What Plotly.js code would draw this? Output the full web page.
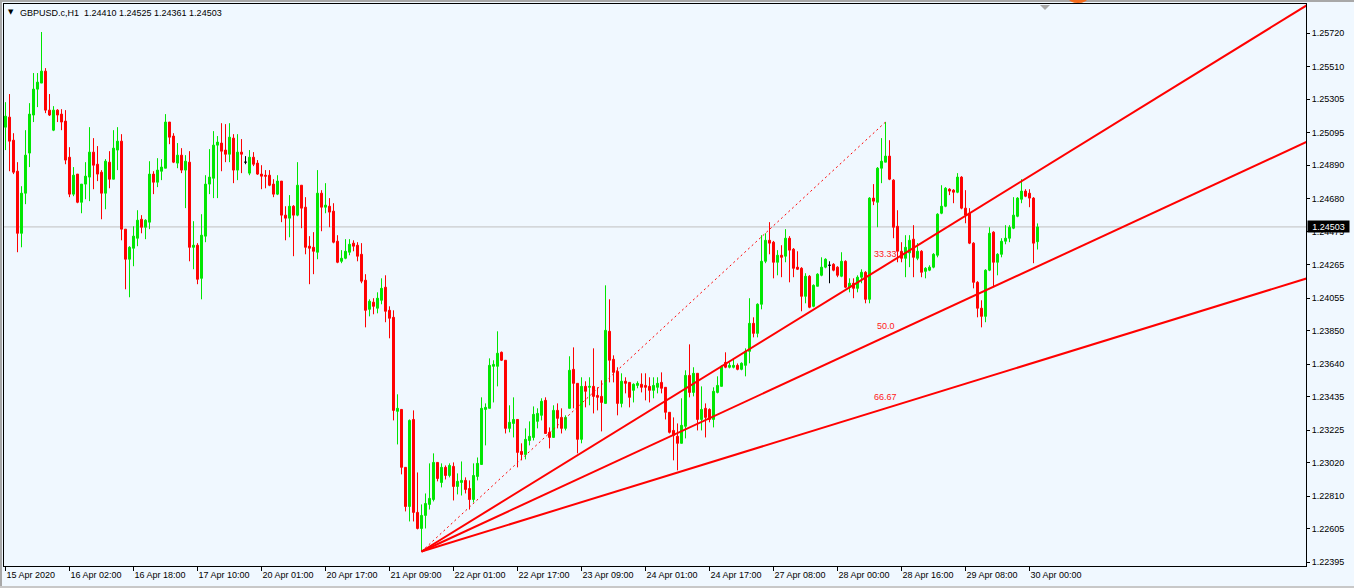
<!DOCTYPE html>
<html><head><meta charset="utf-8">
<script src="https://cdn.plot.ly/plotly-3.0.1.min.js"></script>
<style>
html,body{margin:0;padding:0;background:#F0F8FF;overflow:hidden;width:1354px;height:588px}
#chart{position:absolute;left:0;top:0;width:1354px;height:588px}
.deco{position:absolute;pointer-events:none}
</style></head><body>
<div id="chart"></div>
<div class="deco" style="left:0;top:0;width:1354px;height:2px;background:#A8A8A8"></div>
<div class="deco" style="left:0;top:0;width:2px;height:588px;background:#A8A8A8"></div>
<div class="deco" style="left:0;top:586px;width:1354px;height:2px;background:#C8C8C8"></div>
<div class="deco" style="left:1068px;top:-8px;width:20px;height:11px;border-radius:50%;background:#F26A1B"></div>
<div class="deco" style="left:1040px;top:5px;width:0;height:0;border-left:5px solid transparent;border-right:5px solid transparent;border-top:5px solid #A8A8A8"></div>
<script>
const symbolName = 'GBPUSD.c,H1';

const openP = [
1.25130,1.25193,1.25048,1.24853,1.24463,1.24715,1.24967,1.25206,1.25369,1.25407,
1.25482,1.25237,1.25111,1.25237,1.25212,1.25168,1.24941,1.24709,1.24835,1.24658,
1.24772,1.24816,1.24973,1.24897,1.24847,1.24715,1.24910,1.24803,1.24986,1.25042,
1.24489,1.24300,1.24369,1.24432,1.24551,1.24501,1.24533,1.24835,1.24784,1.24853,
1.24872,1.25162,1.25074,1.24904,1.24954,1.24860,1.24910,1.24375,1.24388,1.24180,
1.24445,1.24772,1.24809,1.25017,1.25030,1.24986,1.24960,1.25061,1.24860,1.24973,
1.24910,1.24841,1.24941,1.24904,1.24835,1.24828,1.24828,1.24772,1.24709,1.24791,
1.24577,1.24558,1.24633,1.24577,1.24765,1.24627,1.24382,1.24375,1.24344,1.24715,
1.24627,1.24633,1.24602,1.24413,1.24287,1.24306,1.24344,1.24401,1.24388,1.24331,
1.24168,1.23985,1.24030,1.23992,1.24042,1.24124,1.23979,1.23935,1.23344,1.23356,
1.22992,1.22746,1.23293,1.22709,1.22608,1.22690,1.22759,1.22790,1.23023,1.22897,
1.22992,1.22941,1.22998,1.22872,1.22897,1.22910,1.22859,1.22790,1.22935,1.23010,
1.23356,1.23363,1.23627,1.23627,1.23715,1.23665,1.23237,1.23268,1.23293,1.23092,
1.23073,1.23161,1.23180,1.23281,1.23319,1.23413,1.23212,1.23180,1.23350,1.23306,
1.23237,1.23363,1.23608,1.23520,1.23168,1.23501,1.23495,1.23501,1.23444,1.23438,
1.23394,1.23847,1.23671,1.23595,1.23394,1.23533,1.23526,1.23476,1.23507,1.23514,
1.23507,1.23501,1.23476,1.23495,1.23526,1.23495,1.23338,1.23224,1.23187,1.23143,
1.23250,1.23570,1.23463,1.23583,1.23293,1.23363,1.23356,1.23293,1.23463,1.23501,
1.23652,1.23621,1.23621,1.23633,1.23608,1.23633,1.23721,1.23897,1.23834,1.24017,
1.24287,1.24419,1.24407,1.24281,1.24325,1.24319,1.24432,1.24363,1.24250,1.24243,
1.24067,1.24193,1.24004,1.24130,1.24199,1.24250,1.24262,1.24268,1.24250,1.24193,
1.24287,1.24124,1.24149,1.24117,1.24187,1.24218,1.24048,1.24684,1.24658,1.24872,
1.24910,1.24948,1.24797,1.24507,1.24350,1.24306,1.24340,1.24426,1.24306,1.24350,
1.24224,1.24231,1.24250,1.24325,1.24589,1.24633,1.24740,1.24734,1.24721,1.24816,
1.24621,1.24589,1.24401,1.24155,1.23992,1.23941,1.24231,1.24470,1.24281,1.24331,
1.24413,1.24432,1.24495,1.24570,1.24677,1.24728,1.24715,1.24684,1.24410];

const highP = [
1.25287,1.25338,1.25092,1.24910,1.24759,1.25111,1.25281,1.25470,1.25470,1.25728,
1.25501,1.25338,1.25262,1.25243,1.25243,1.25237,1.25004,1.24879,1.24835,1.24772,
1.24910,1.25130,1.25061,1.25011,1.24860,1.24929,1.24979,1.25111,1.25130,1.25086,
1.24489,1.24382,1.24507,1.24608,1.24577,1.24551,1.24916,1.24853,1.24935,1.24929,
1.25212,1.25162,1.25092,1.25030,1.24998,1.24954,1.24979,1.24539,1.24401,1.24583,
1.24828,1.24992,1.25105,1.25074,1.25155,1.25149,1.25155,1.25086,1.25086,1.25055,
1.24948,1.24986,1.24973,1.24923,1.24891,1.24860,1.24860,1.24803,1.24828,1.24791,
1.24633,1.24703,1.24640,1.24910,1.24765,1.24690,1.24445,1.24470,1.24860,1.24734,
1.24778,1.24684,1.24652,1.24451,1.24357,1.24426,1.24426,1.24419,1.24407,1.24401,
1.24206,1.24048,1.24055,1.24092,1.24180,1.24199,1.24004,1.23979,1.23451,1.23356,
1.22992,1.23293,1.23350,1.22960,1.22759,1.22828,1.23017,1.23080,1.23023,1.23017,
1.23004,1.23017,1.23023,1.22954,1.23029,1.22929,1.22910,1.23017,1.23054,1.23432,
1.23394,1.23677,1.23665,1.23847,1.23720,1.23665,1.23382,1.23432,1.23293,1.23143,
1.23237,1.23281,1.23375,1.23363,1.23426,1.23432,1.23243,1.23382,1.23394,1.23363,
1.23319,1.23690,1.23746,1.23520,1.23558,1.23533,1.23558,1.23740,1.23495,1.23539,
1.24136,1.24048,1.23696,1.23621,1.23583,1.23558,1.23526,1.23520,1.23533,1.23583,
1.23583,1.23558,1.23558,1.23558,1.23589,1.23495,1.23338,1.23306,1.23268,1.23426,
1.23602,1.23765,1.23621,1.23583,1.23501,1.23394,1.23363,1.23495,1.23564,1.23633,
1.23715,1.23652,1.23677,1.23645,1.23652,1.23740,1.24055,1.23935,1.24023,1.24451,
1.24463,1.24533,1.24415,1.24357,1.24388,1.24489,1.24445,1.24370,1.24350,1.24250,
1.24212,1.24200,1.24142,1.24212,1.24312,1.24306,1.24287,1.24275,1.24256,1.24344,
1.24293,1.24180,1.24180,1.24199,1.24237,1.24225,1.24690,1.24772,1.24879,1.25061,
1.25162,1.25048,1.24803,1.24608,1.24407,1.24451,1.24451,1.24514,1.24401,1.24357,
1.24250,1.24262,1.24338,1.24589,1.24765,1.24753,1.24746,1.24740,1.24841,1.24822,
1.24734,1.24621,1.24407,1.24162,1.24042,1.24237,1.24501,1.24476,1.24338,1.24432,
1.24514,1.24514,1.24690,1.24690,1.24803,1.24740,1.24740,1.24690,1.24525];

const lowP = [
1.24986,1.24853,1.24835,1.24344,1.24375,1.24646,1.24879,1.25162,1.25256,1.25407,
1.25218,1.25200,1.25105,1.25162,1.25111,1.24897,1.24690,1.24696,1.24652,1.24589,
1.24677,1.24665,1.24740,1.24791,1.24551,1.24614,1.24746,1.24803,1.24860,1.24419,
1.24111,1.24061,1.24256,1.24382,1.24463,1.24426,1.24489,1.24709,1.24753,1.24797,
1.24872,1.25023,1.24904,1.24872,1.24841,1.24621,1.24287,1.24237,1.24143,1.24048,
1.24407,1.24709,1.24684,1.24684,1.24853,1.24910,1.24910,1.24778,1.24797,1.24841,
1.24897,1.24828,1.24885,1.24830,1.24740,1.24746,1.24759,1.24690,1.24703,1.24533,
1.24419,1.24438,1.24319,1.24570,1.24495,1.24331,1.24143,1.24206,1.24300,1.24476,
1.24589,1.24501,1.24400,1.24275,1.24275,1.24300,1.24325,1.24350,1.24287,1.24149,
1.23872,1.23941,1.23954,1.23960,1.24017,1.23904,1.23803,1.23287,1.23136,1.22948,
1.22715,1.22652,1.22652,1.22602,1.22463,1.22608,1.22727,1.22778,1.22904,1.22866,
1.22916,1.22929,1.22784,1.22822,1.22815,1.22828,1.22727,1.22771,1.22910,1.23010,
1.23130,1.23363,1.23400,1.23501,1.23660,1.23205,1.23212,1.23180,1.22992,1.23036,
1.23042,1.23130,1.23161,1.23237,1.23287,1.23205,1.23111,1.23180,1.23237,1.23205,
1.23224,1.23363,1.23363,1.23080,1.23143,1.23369,1.23382,1.23331,1.23350,1.23218,
1.23394,1.23526,1.23526,1.23319,1.23369,1.23457,1.23369,1.23400,1.23489,1.23463,
1.23413,1.23400,1.23426,1.23457,1.23457,1.23293,1.23205,1.23036,1.22973,1.23143,
1.23174,1.23432,1.23438,1.23224,1.23224,1.23180,1.23275,1.23243,1.23457,1.23501,
1.23615,1.23614,1.23614,1.23602,1.23602,1.23564,1.23646,1.23809,1.23809,1.23985,
1.24275,1.24331,1.24180,1.24199,1.24187,1.24281,1.24155,1.24187,1.24232,1.23973,
1.24023,1.23992,1.23998,1.24130,1.24193,1.24243,1.24149,1.24224,1.24187,1.24187,
1.24118,1.24092,1.24055,1.24092,1.24149,1.24023,1.24023,1.24640,1.24501,1.24778,
1.24910,1.24797,1.24432,1.24281,1.24281,1.24187,1.24250,1.24187,1.24294,1.24187,
1.24180,1.24225,1.24243,1.24312,1.24583,1.24627,1.24703,1.24652,1.24715,1.24614,
1.24526,1.24395,1.24117,1.23935,1.23872,1.23904,1.24225,1.24124,1.24199,1.24312,
1.24394,1.24407,1.24489,1.24564,1.24652,1.24690,1.24627,1.24275,1.24361];

const closeP = [
1.25199,1.25042,1.24847,1.24463,1.24715,1.24954,1.25212,1.25369,1.25413,1.25482,
1.25237,1.25206,1.25237,1.25206,1.25162,1.24923,1.24709,1.24828,1.24658,1.24772,
1.24822,1.24973,1.24891,1.24835,1.24715,1.24916,1.24803,1.24998,1.25042,1.24489,
1.24300,1.24375,1.24445,1.24545,1.24501,1.24545,1.24835,1.24784,1.24860,1.24879,
1.25162,1.25067,1.24910,1.24954,1.24860,1.24916,1.24375,1.24388,1.24174,1.24451,
1.24772,1.24816,1.25017,1.25036,1.24979,1.24960,1.25067,1.24860,1.24973,1.24960,
1.24910,1.24941,1.24897,1.24835,1.24822,1.24822,1.24765,1.24709,1.24791,1.24577,
1.24558,1.24633,1.24577,1.24765,1.24621,1.24375,1.24369,1.24350,1.24715,1.24627,
1.24640,1.24596,1.24407,1.24281,1.24306,1.24350,1.24394,1.24382,1.24319,1.24162,
1.23979,1.24036,1.24004,1.24055,1.24117,1.23973,1.23929,1.23350,1.23363,1.22992,
1.22746,1.23287,1.22709,1.22608,1.22690,1.22765,1.22797,1.23023,1.22922,1.22992,
1.22941,1.23004,1.22872,1.22904,1.22910,1.22853,1.22790,1.22941,1.23017,1.23363,
1.23369,1.23633,1.23639,1.23709,1.23665,1.23237,1.23275,1.23293,1.23086,1.23073,
1.23168,1.23187,1.23325,1.23331,1.23407,1.23205,1.23180,1.23350,1.23300,1.23237,
1.23306,1.23602,1.23520,1.23168,1.23501,1.23470,1.23501,1.23438,1.23432,1.23400,
1.23853,1.23665,1.23589,1.23394,1.23533,1.23520,1.23432,1.23514,1.23520,1.23495,
1.23495,1.23476,1.23507,1.23520,1.23489,1.23338,1.23212,1.23193,1.23143,1.23256,
1.23570,1.23463,1.23583,1.23293,1.23356,1.23306,1.23293,1.23470,1.23507,1.23627,
1.23621,1.23633,1.23633,1.23608,1.23646,1.23721,1.23897,1.23834,1.24017,1.24287,
1.24419,1.24401,1.24281,1.24325,1.24312,1.24432,1.24357,1.24243,1.24237,1.24067,
1.24193,1.23998,1.24136,1.24206,1.24250,1.24300,1.24262,1.24231,1.24199,1.24287,
1.24124,1.24149,1.24117,1.24187,1.24218,1.24048,1.24684,1.24665,1.24872,1.24916,
1.24948,1.24803,1.24501,1.24350,1.24306,1.24375,1.24419,1.24312,1.24350,1.24218,
1.24243,1.24250,1.24331,1.24583,1.24633,1.24746,1.24728,1.24721,1.24816,1.24621,
1.24577,1.24401,1.24155,1.23992,1.23941,1.24231,1.24463,1.24281,1.24331,1.24413,
1.24432,1.24501,1.24577,1.24684,1.24728,1.24696,1.24684,1.24401,1.24503];

// time-axis labels, one every 16 hourly bars
const xTickBars = [0,16,32,48,64,80,96,112,128,144,160,176,192,208,224,240,256];
const xTickLabels = ['15 Apr 2020','16 Apr 02:00','16 Apr 18:00','17 Apr 10:00','20 Apr 01:00',
  '20 Apr 17:00','21 Apr 09:00','22 Apr 01:00','22 Apr 17:00','23 Apr 09:00','24 Apr 01:00',
  '24 Apr 17:00','27 Apr 08:00','28 Apr 00:00','28 Apr 16:00','29 Apr 08:00','30 Apr 00:00'];

const yTickVals = [1.25720,1.25510,1.25305,1.25095,1.24890,1.24680,1.24475,1.24265,1.24055,
  1.23850,1.23640,1.23435,1.23225,1.23020,1.22810,1.22605,1.22395];

// Fibonacci fan anchors: low of bar 104 to high of bar 220
const fanStartBar = 104;
const fanEndBar = 220;
const fanLevels = [33.33, 50.0, 66.67];
const fanLabels = ['33.33', '50.0', '66.67'];

const N = openP.length;
const bars = openP.map((_, i) => i);
const UP = '#00E600', DN = '#FF0000';

const normal = {x: [], open: [], high: [], low: [], close: []};
const doji = {x: [], open: [], high: [], low: [], close: []};
for (let i = 0; i < N; i++) {
  const t = (openP[i] === closeP[i]) ? doji : normal;
  t.x.push(bars[i]); t.open.push(openP[i]); t.high.push(highP[i]);
  t.low.push(lowP[i]); t.close.push(closeP[i]);
}

const xRange = [-0.375, 325.125];
const yRange = [1.22372, 1.25904];

const traces = [
  Object.assign({type: 'candlestick', hoverinfo: 'skip', whiskerwidth: 0,
    increasing: {line: {color: UP, width: 1}, fillcolor: UP},
    decreasing: {line: {color: DN, width: 1}, fillcolor: DN}}, normal),
  Object.assign({type: 'candlestick', hoverinfo: 'skip', whiskerwidth: 0,
    increasing: {line: {color: '#000000', width: 1}, fillcolor: '#000000'},
    decreasing: {line: {color: '#000000', width: 1}, fillcolor: '#000000'}}, doji)
];

const fStartP = lowP[fanStartBar];
const fEndP = highP[fanEndBar];
const xEnd = xRange[1] + 5;
const annotations = [];

traces.push({type: 'scatter', mode: 'lines', hoverinfo: 'skip',
  x: [fanStartBar, fanEndBar], y: [fStartP, fEndP],
  line: {color: '#FF0000', width: 1, dash: '2px,3px'}});

fanLevels.forEach((lv, k) => {
  const pAtEnd = fEndP - lv / 100 * (fEndP - fStartP);
  const slope = (pAtEnd - fStartP) / (fanEndBar - fanStartBar);
  traces.push({type: 'scatter', mode: 'lines', hoverinfo: 'skip',
    x: [fanStartBar, xEnd], y: [fStartP, fStartP + slope * (xEnd - fanStartBar)],
    line: {color: '#FF0000', width: 2}});
  annotations.push({x: fanEndBar, y: pAtEnd, xref: 'x', yref: 'y', text: fanLabels[k],
    showarrow: false, xanchor: 'center', yanchor: 'middle', yshift: 11,
    font: {family: 'Liberation Sans, Arial, sans-serif', size: 9, color: '#FF2020'}});
});

const last = N - 1;
const fmt = v => v.toFixed(5);

annotations.push({xref: 'paper', yref: 'y', x: 1, y: closeP[last], xanchor: 'left', yanchor: 'middle',
  xshift: 1, text: fmt(closeP[last]), showarrow: false, bgcolor: '#000000', borderpad: 0,
  width: 41, height: 11, align: 'center',
  font: {family: 'Liberation Sans, Arial, sans-serif', size: 9, color: '#FFFFFF'}});

annotations.push({xref: 'paper', yref: 'paper', x: 7 / 1302, y: (566 - 12.5) / 562,
  xanchor: 'center', yanchor: 'middle', text: '\u25BC', showarrow: false,
  font: {family: 'DejaVu Sans, sans-serif', size: 7, color: '#000000'}});

const font = {family: 'Liberation Sans, Arial, sans-serif', size: 9, color: '#000000'};

const layout = {
  width: 1354, height: 588,
  paper_bgcolor: '#F0F8FF', plot_bgcolor: '#F0F8FF',
  margin: {l: 4, r: 48, t: 4, b: 22},
  showlegend: false,
  title: {text: symbolName + '\u00a0\u00a0' + [openP[last], highP[last], lowP[last], closeP[last]].map(fmt).join(' '),
    xref: 'container', yref: 'container', x: 20 / 1354, y: 1 - 13 / 588,
    xanchor: 'left', yanchor: 'middle', font: font},
  xaxis: {type: 'linear', range: xRange, rangeslider: {visible: false},
    tickmode: 'array', tickvals: xTickBars, ticktext: xTickLabels,
    ticks: 'outside', ticklen: 4, tickwidth: 1, tickcolor: '#000000',
    ticklabelposition: 'outside right',
    showline: true, linecolor: '#000000', linewidth: 1, mirror: true,
    showgrid: false, zeroline: false, tickfont: font, fixedrange: true},
  yaxis: {range: yRange, side: 'right',
    tickmode: 'array', tickvals: yTickVals, ticktext: yTickVals.map(fmt),
    ticks: 'outside', ticklen: 3, tickwidth: 1, tickcolor: '#000000',
    showline: true, linecolor: '#000000', linewidth: 1, mirror: true,
    showgrid: false, zeroline: false, tickfont: font, fixedrange: true},
  shapes: [{type: 'line', xref: 'paper', x0: 0, x1: 1, yref: 'y', y0: closeP[last], y1: closeP[last],
    line: {color: '#C0C0C0', width: 1}, layer: 'below'}],
  annotations: annotations
};

Plotly.newPlot('chart', traces, layout, {displayModeBar: false, staticPlot: true});
</script>
</body></html>
